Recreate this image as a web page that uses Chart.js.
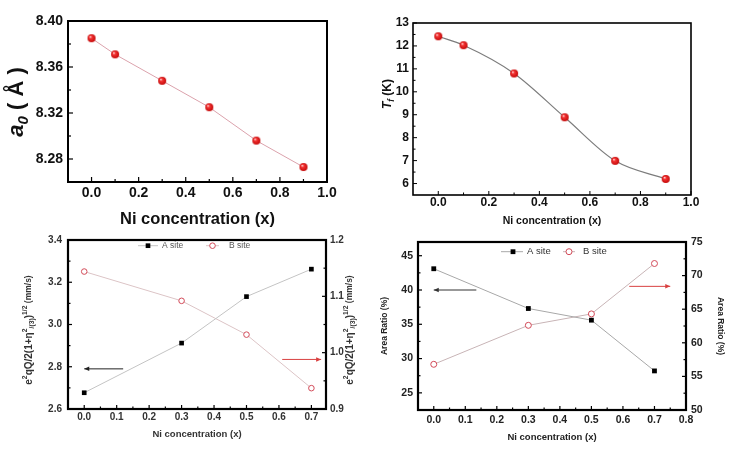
<!DOCTYPE html>
<html><head><meta charset="utf-8">
<script src="https://cdn.jsdelivr.net/npm/chart.js@4.4.1/dist/chart.umd.min.js"></script>
<style>
html,body{margin:0;padding:0;background:#fff;}
body{width:743px;height:452px;overflow:hidden;position:relative;}
canvas{position:absolute;display:block;}
</style>
</head><body>
<canvas id="c1" width="370" height="232" style="left:0;top:0"></canvas>
<canvas id="c2" width="373" height="232" style="left:370px;top:0"></canvas>
<canvas id="c3" width="370" height="224" style="left:0;top:228px"></canvas>
<canvas id="c4" width="373" height="224" style="left:370px;top:228px"></canvas>
<script>
// ---------------- data ----------------
const xConcA = [0.0, 0.1, 0.3, 0.5, 0.7, 0.9];
const latticeA0 = [8.385, 8.371, 8.348, 8.325, 8.296, 8.273];
const freezingTf = [12.42, 12.03, 10.80, 8.89, 6.99, 6.20];
const xConcB = [0.0, 0.3, 0.5, 0.7];
const quadSplitA = [2.677, 2.912, 3.132, 3.262];
const quadSplitB = [1.144, 1.092, 1.032, 0.937];
const areaRatioA = [43.1, 37.3, 35.6, 28.2];
const areaRatioB = [56.8, 62.6, 64.3, 71.8];
const seriesLabels = ['A site', 'B site'];
const xTitle = 'Ni concentration (x)';
const areaTitle = 'Area Ratio (%)';
// tick values
const ticksX1 = [0.0, 0.2, 0.4, 0.6, 0.8, 1.0];
const ticksY1 = [8.28, 8.32, 8.36, 8.40];
const ticksY2 = [6, 7, 8, 9, 10, 11, 12, 13];
const ticksX3 = [0.0, 0.1, 0.2, 0.3, 0.4, 0.5, 0.6, 0.7];
const ticksY3L = [2.6, 2.8, 3.0, 3.2, 3.4];
const ticksY3R = [0.9, 1.0, 1.1, 1.2];
const ticksX4 = [0.0, 0.1, 0.2, 0.3, 0.4, 0.5, 0.6, 0.7, 0.8];
const ticksY4L = [25, 30, 35, 40, 45];
const ticksY4R = [50, 55, 60, 65, 70, 75];
// arrows: [xFrom, xTo, yValue, axis]
const arrows3 = [[0.12, 0.0, 2.79, 'y'], [0.61, 0.73, 0.988, 'y2']];
const arrows4 = [[0.135, 0.0, 40.0, 'y'], [0.62, 0.75, 68.4, 'y2']];

// ---------------- helpers ----------------
const FONT = '"Liberation Sans", Arial, Helvetica, sans-serif';
function pts(xs, ys){ return xs.map((x,i)=>({x:x, y:ys[i]})); }
function minorsOf(maj, min, max){
  const step = maj[1]-maj[0];
  const all = [maj[0]-step/2];
  for (let i=0;i<maj.length-1;i++) all.push((maj[i]+maj[i+1])/2);
  all.push(maj[maj.length-1]+step/2);
  return all.filter(v => v>min+1e-9 && v<max-1e-9);
}
function xAxis(o){
  return {
    type:'linear', position:'bottom', min:o.min, max:o.max,
    grid:{display:false, drawTicks:false}, border:{display:false},
    afterBuildTicks: s => { s.ticks = o.ticks.map(v=>({value:v})); },
    afterFit: s => { s.height = o.size; },
    ticks:{autoSkip:false, maxRotation:0, minRotation:0, padding:o.pad, color:o.color,
      font:{family:FONT, size:o.fs, weight:'bold'}, callback: v => Number(v).toFixed(o.dec)},
    title:{display:true, text:xTitle, color:o.color, font:{family:FONT, size:o.tfs, weight:'bold', lineHeight:1.2},
      padding:{top:0, bottom:o.tpad}}
  };
}
function yAxis(o){
  return {
    type:'linear', position:o.position, min:o.min, max:o.max,
    grid:{display:false, drawTicks:false}, border:{display:false},
    afterBuildTicks: s => { s.ticks = o.ticks.map(v=>({value:v})); },
    afterFit: s => { s.width = o.size; },
    ticks:{autoSkip:false, padding:o.pad, color:o.color,
      font:{family:FONT, size:o.fs, weight:'bold'}, callback: v => Number(v).toFixed(o.dec)},
    title: o.title ? {display:true, text:o.title, color:o.color, font:{family:FONT, size:o.tfs, weight:'bold', lineHeight:1.2},
      padding:{top:o.tpad, bottom:0}} : {display:false}
  };
}
function sphere(r){
  const s = Math.ceil(r*2)+2;
  const c = document.createElement('canvas'); c.width = s; c.height = s;
  const g = c.getContext('2d'); const cx = s/2;
  const grd = g.createRadialGradient(cx-r*0.35, cx-r*0.4, r*0.1, cx, cx, r);
  grd.addColorStop(0, '#ffd6d6'); grd.addColorStop(0.3, '#f43434'); grd.addColorStop(1, '#c40808');
  g.fillStyle = grd; g.beginPath(); g.arc(cx, cx, r, 0, Math.PI*2); g.fill();
  return c;
}

// frame + inward tick marks
const frameTicks = {
  id:'frameTicks',
  afterDraw(chart, args, opts){
    const {ctx, chartArea:a, scales} = chart;
    ctx.save();
    ctx.strokeStyle = '#000';
    ctx.lineWidth = opts.tickWidth || 1;
    for (const id in opts.axes){
      const s = scales[id]; const maj = opts.axes[id];
      const mins = minorsOf(maj, s.min, s.max);
      const draw = (v, len) => {
        const p = s.getPixelForValue(v);
        ctx.beginPath();
        if (s.position === 'bottom'){ ctx.moveTo(p, a.bottom); ctx.lineTo(p, a.bottom-len); }
        else if (s.position === 'left'){ ctx.moveTo(a.left, p); ctx.lineTo(a.left+len, p); }
        else { ctx.moveTo(a.right, p); ctx.lineTo(a.right-len, p); }
        ctx.stroke();
      };
      maj.forEach(v => draw(v, opts.major));
      mins.forEach(v => draw(v, opts.minor));
    }
    ctx.lineWidth = opts.width;
    ctx.strokeRect(a.left, a.top, a.right-a.left, a.bottom-a.top);
    ctx.restore();
  }
};
// rich (sub/superscript) rotated titles
const richTitles = {
  id:'richTitles',
  afterDraw(chart, args, opts){
    if (!opts.items) return;
    const ctx = chart.ctx;
    for (const it of opts.items){
      ctx.save();
      ctx.translate(it.x, it.y); ctx.rotate(-Math.PI/2);
      let total = 0;
      const m = it.runs.map(r => {
        const fs = (r.sub||r.sup) ? it.size*0.68 : it.size*(r.scale||1);
        const f = (r.italic?'italic ':'') + 'bold ' + fs + 'px ' + FONT;
        ctx.font = f; const w = ctx.measureText(r.t).width; total += w;
        return {f:f, w:w, dy: r.sub ? it.size*0.32 : (r.sup ? -it.size*0.42 : 0)};
      });
      let x = -total/2;
      ctx.fillStyle = it.color; ctx.textBaseline = 'middle'; ctx.textAlign = 'left';
      it.runs.forEach((r,i) => { ctx.font = m[i].f; ctx.fillText(r.t, x, m[i].dy); x += m[i].w; });
      ctx.restore();
    }
  }
};
// arrows anchored in data coordinates
const dataArrows = {
  id:'dataArrows',
  afterDatasetsDraw(chart, args, opts){
    if (!opts.list) return;
    const {ctx, scales} = chart;
    opts.list.forEach((ar, i) => {
      const xs = scales.x, ys = scales[ar[3]];
      const x1 = xs.getPixelForValue(ar[0]), x2 = xs.getPixelForValue(ar[1]), y = ys.getPixelForValue(ar[2]);
      const col = opts.colors[i];
      ctx.save(); ctx.strokeStyle = col; ctx.fillStyle = col; ctx.lineWidth = opts.width;
      ctx.beginPath(); ctx.moveTo(x1, y); ctx.lineTo(x2, y); ctx.stroke();
      const d = Math.sign(x2-x1), h = opts.head;
      ctx.beginPath(); ctx.moveTo(x2, y); ctx.lineTo(x2-d*h, y-h*0.45); ctx.lineTo(x2-d*h, y+h*0.45); ctx.closePath(); ctx.fill();
      ctx.restore();
    });
  }
};
// in-plot legend
const siteLegend = {
  id:'siteLegend',
  afterDraw(chart, args, opts){
    if (!opts.items) return;
    const ctx = chart.ctx;
    chart.data.datasets.forEach((ds, i) => {
      const it = opts.items[i]; const y = opts.y;
      ctx.save();
      ctx.strokeStyle = ds.borderColor; ctx.lineWidth = 1;
      ctx.beginPath(); ctx.moveTo(it.x0, y); ctx.lineTo(it.x1, y); ctx.stroke();
      const r = ds.pointRadius;
      if (ds.pointStyle === 'rect'){
        const s = r/Math.SQRT2; ctx.fillStyle = ds.pointBackgroundColor; ctx.fillRect(it.mx-s, y-s, 2*s, 2*s);
      } else {
        ctx.fillStyle = '#fff'; ctx.strokeStyle = ds.pointBorderColor; ctx.lineWidth = ds.pointBorderWidth;
        ctx.beginPath(); ctx.arc(it.mx, y, r, 0, Math.PI*2); ctx.fill(); ctx.stroke();
      }
      ctx.fillStyle = opts.color; ctx.font = opts.font; ctx.textBaseline = 'middle'; ctx.textAlign = 'left';
      ctx.fillText(ds.label, it.tx, y);
      ctx.restore();
    });
  }
};
Chart.register(frameTicks, richTitles, dataArrows, siteLegend);

const base = {responsive:false, animation:false, events:[], devicePixelRatio:1};
const ball = sphere(4);

// ---------------- panel 1 ----------------
new Chart(document.getElementById('c1'), {
  type:'scatter',
  data:{datasets:[{label:'a0', data:pts(xConcA, latticeA0), showLine:true, borderColor:'#dba2ac', borderWidth:1,
    pointStyle:ball, pointRadius:4, tension:0}]},
  options:Object.assign({}, base, {
    layout:{padding:{top:21, right:43, left:0, bottom:0}},
    scales:{
      x:xAxis({min:-0.1, max:1.0, ticks:ticksX1, dec:1, size:50, pad:2.6, fs:14, tfs:16.5, tpad:3, color:'#111'}),
      y:yAxis({position:'left', min:8.26, max:8.40, ticks:ticksY1, dec:2, size:68, pad:5, fs:14, color:'#111'})
    },
    plugins:{legend:{display:false}, tooltip:{enabled:false},
      frameTicks:{axes:{x:ticksX1, y:ticksY1}, major:5, minor:3, width:2, tickWidth:1.2},
      richTitles:{items:[{x:17, y:102, size:22, color:'#111', runs:[
        {t:'a', italic:true}, {t:'0', italic:true, sub:true}, {t:' ( Å )'}]}]}
    }
  })
});

// ---------------- panel 2 ----------------
new Chart(document.getElementById('c2'), {
  type:'scatter',
  data:{datasets:[{label:'Tf', data:pts(xConcA, freezingTf), showLine:true, borderColor:'#7c7c7c', borderWidth:1.2,
    pointStyle:ball, pointRadius:4, tension:0.4, cubicInterpolationMode:'monotone'}]},
  options:Object.assign({}, base, {
    layout:{padding:{top:23, right:52, left:0, bottom:0}},
    scales:{
      x:xAxis({min:-0.1, max:1.0, ticks:ticksX1, dec:1, size:37, pad:0, fs:12, tfs:10.5, tpad:4.4, color:'#111'}),
      y:yAxis({position:'left', min:5.5, max:13, ticks:ticksY2, dec:0, size:43, pad:4, fs:12, color:'#111'})
    },
    plugins:{legend:{display:false}, tooltip:{enabled:false},
      frameTicks:{axes:{x:ticksX1, y:ticksY2}, major:4, minor:2.5, width:1.6, tickWidth:1},
      richTitles:{items:[{x:18, y:94, size:12, color:'#111', runs:[
        {t:'T', italic:true}, {t:'f', italic:true, sub:true}, {t:' (K)'}]}]}
    }
  })
});

// ---------------- panel 3 ----------------
const qTitleRuns = [{t:'e'}, {t:'2', sup:true}, {t:'qQ/2(1+η'}, {t:'2', sup:true}, {t:'/(3)', sub:true},
  {t:')'}, {t:'1/2', sup:true}, {t:' (mm/s)', scale:0.85}];
new Chart(document.getElementById('c3'), {
  type:'scatter',
  data:{datasets:[
    {label:seriesLabels[0], data:pts(xConcB, quadSplitA), yAxisID:'y', showLine:true, borderColor:'#c4c4c4', borderWidth:1,
      pointStyle:'rect', pointRadius:3.3, pointBackgroundColor:'#000', pointBorderColor:'#000', pointBorderWidth:0},
    {label:seriesLabels[1], data:pts(xConcB, quadSplitB), yAxisID:'y2', showLine:true, borderColor:'#dcc4c6', borderWidth:1,
      pointStyle:'circle', pointRadius:2.8, pointBackgroundColor:'#fff', pointBorderColor:'#d24a58', pointBorderWidth:1}
  ]},
  options:Object.assign({}, base, {
    layout:{padding:{top:11, right:0, left:0, bottom:0}},
    scales:{
      x:xAxis({min:-0.05, max:0.745, ticks:ticksX3, dec:1, size:43, pad:2.7, fs:10, tfs:9.5, tpad:12, color:'#333'}),
      y:yAxis({position:'left', min:2.6, max:3.4, ticks:ticksY3L, dec:1, size:68, pad:6, fs:10, color:'#333'}),
      y2:yAxis({position:'right', min:0.9, max:1.2, ticks:ticksY3R, dec:1, size:44, pad:4, fs:10, color:'#333'})
    },
    plugins:{legend:{display:false}, tooltip:{enabled:false},
      frameTicks:{axes:{x:ticksX3, y:ticksY3L, y2:ticksY3R}, major:4, minor:2.5, width:2.2, tickWidth:1.2},
      dataArrows:{list:arrows3, colors:['#222', '#d94040'], width:1, head:5},
      siteLegend:{y:17.7, font:'8.5px ' + FONT, color:'#555', items:[{x0:138, x1:158, mx:148, tx:162}, {x0:206, x1:219, mx:212.5, tx:229}]},
      richTitles:{items:[{x:29, y:102, size:10, color:'#333', runs:qTitleRuns}, {x:350, y:102, size:10, color:'#333', runs:qTitleRuns}]}
    }
  })
});

// ---------------- panel 4 ----------------
new Chart(document.getElementById('c4'), {
  type:'scatter',
  data:{datasets:[
    {label:seriesLabels[0], data:pts(xConcB, areaRatioA), yAxisID:'y', showLine:true, borderColor:'#a8a8a8', borderWidth:1,
      pointStyle:'rect', pointRadius:3.4, pointBackgroundColor:'#000', pointBorderColor:'#000', pointBorderWidth:0},
    {label:seriesLabels[1], data:pts(xConcB, areaRatioB), yAxisID:'y2', showLine:true, borderColor:'#c8b4b6', borderWidth:1,
      pointStyle:'circle', pointRadius:3, pointBackgroundColor:'#fff', pointBorderColor:'#d24a58', pointBorderWidth:1}
  ]},
  options:Object.assign({}, base, {
    layout:{padding:{top:14, right:0, left:0, bottom:0}},
    scales:{
      x:xAxis({min:-0.05, max:0.8, ticks:ticksX4, dec:1, size:42, pad:3.5, fs:10.5, tfs:9.5, tpad:9.4, color:'#222'}),
      y:yAxis({position:'left', min:22.5, max:47, ticks:ticksY4L, dec:0, size:48, pad:5, fs:10.5, color:'#222', title:areaTitle, tfs:8.5, tpad:9.5}),
      y2:yAxis({position:'right', min:50, max:75, ticks:ticksY4R, dec:0, size:57, pad:5, fs:10.5, color:'#222', title:areaTitle, tfs:8.5, tpad:17.5})
    },
    plugins:{legend:{display:false}, tooltip:{enabled:false},
      frameTicks:{axes:{x:ticksX4, y:ticksY4L, y2:ticksY4R}, major:4, minor:2.5, width:2.2, tickWidth:1.2},
      dataArrows:{list:arrows4, colors:['#333', '#d94040'], width:1, head:5},
      siteLegend:{y:23.7, font:'9.5px ' + FONT, color:'#333', items:[{x0:131, x1:153, mx:143, tx:157}, {x0:193, x1:205, mx:199, tx:213}]}
    }
  })
});
</script>
</body></html>
